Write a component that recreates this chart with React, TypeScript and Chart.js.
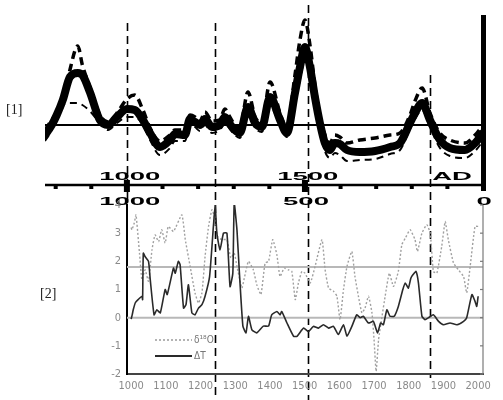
import { useEffect, useRef } from 'react';
import { Chart, registerables } from 'chart.js';

Chart.register(...registerables);

// ---------- Panel [1] (AD 770 – 2000) ----------
const TOP_YEARS = [770, 789, 803, 820, 840, 862, 875, 896, 924, 947, 972, 1000, 1022, 1045, 1065, 1093, 1121, 1135, 1163, 1177, 1191, 1205, 1219, 1239, 1261, 1275, 1289, 1303, 1317, 1340, 1360, 1379, 1402, 1430, 1449, 1472, 1486, 1500, 1514, 1528, 1542, 1556, 1570, 1584, 1598, 1618, 1654, 1697, 1739, 1767, 1795, 1809, 1829, 1851, 1879, 1907, 1949, 1978, 2000];
const TOP_MAIN = [-1.0, 0.0, 1.0, 2.5, 4.8, 5.2, 5.0, 3.3, 0.5, 0.0, 0.8, 1.6, 1.5, 0.5, -0.8, -2.2, -1.5, -0.9, -1.0, 0.6, 0.3, 0.0, 0.6, -0.2, 0.0, 0.8, 0.1, -0.5, -0.8, 1.8, 0.2, -0.2, 2.8, 0.5, -0.8, 3.2, 5.8, 7.8, 5.8, 2.8, 0.2, -1.8, -2.5, -1.8, -1.9, -2.5, -2.7, -2.6, -2.2, -1.8, 0.2, 1.2, 2.2, 0.5, -1.5, -2.3, -2.5, -1.8, -0.8];
const TOP_UPPER = [-0.5, 0.5, 1.2, 2.0, 5.5, 7.9, 6.0, 3.8, 1.0, 0.3, 1.2, 2.6, 3.0, 1.5, -0.3, -1.6, -1.0, -0.5, -0.5, 1.0, 0.8, 0.3, 1.3, 0.4, 0.5, 1.6, 0.8, 0.0, -0.3, 3.3, 0.8, 0.2, 4.3, 1.2, -0.3, 5.0, 8.5, 10.5, 8.0, 4.0, 0.8, -1.0, -1.8, -1.0, -1.2, -1.8, -1.5, -1.3, -1.0, -0.8, 1.0, 2.4, 3.7, 1.2, -0.8, -1.5, -1.8, -1.0, 0.0];
const TOP_LOWER = [-1.6, -0.5, 1.0, 2.0, 2.2, 2.2, 2.0, 1.4, 0.2, -0.5, 0.2, 0.8, 0.8, 0.0, -1.5, -3.0, -2.3, -1.6, -1.6, 0.0, -0.2, -0.6, 0.0, -0.8, -0.5, 0.2, -0.4, -1.0, -1.3, 1.0, -0.3, -0.7, 1.8, 0.0, -1.2, 2.2, 4.5, 6.5, 4.8, 2.0, -0.5, -2.6, -3.3, -2.8, -3.0, -3.6, -3.5, -3.4, -2.9, -2.5, -0.4, 0.6, 1.5, -0.2, -2.3, -3.1, -3.3, -2.6, -1.6];
const TOP_TICK_YEARS = [800, 900, 1000, 1100, 1200, 1300, 1400, 1500, 1600, 1700, 1800, 1900];
const TOP_MAJOR_TICKS = [1000, 1500];
const AD_LABEL_YEARS = [1008, 1508, 1913];
const AD_LABEL_TEXT = ['1000', '1500', 'AD'];
const BP_LABEL_YEARS = [1008, 1503, 2003];
const BP_LABEL_TEXT = ['1000', '500', '0'];
const DIVIDER_YEARS = [1000, 1247, 1508, 1851];
const DIVIDER_TOPS = [23, 23, 5, 75];
const DIVIDER_BOTTOMS = [200, 398, 400, 378];

// ---------- Panel [2] (AD 1000 – 2000) ----------
const DELTA_T: [number, number][] = [
  [1000, -0.05], [1003, 0.1], [1006, 0.28], [1012, 0.53], [1020, 0.64], [1031, 0.76], [1033, 0.64], [1035, 2.29], [1040, 2.17], [1050, 2.0],
  [1055, 1.35], [1066, 0.1], [1074, 0.28], [1084, 0.17], [1098, 1.0], [1104, 0.82], [1122, 1.76], [1127, 1.58], [1136, 2.0], [1141, 1.88],
  [1151, 0.34], [1158, 0.46], [1165, 1.17], [1175, 0.17], [1184, 0.1], [1194, 0.34], [1204, 0.46], [1213, 0.76], [1226, 1.46], [1237, 3.24],
  [1242, 4.0], [1247, 3.0], [1256, 2.4], [1266, 3.0], [1276, 3.0], [1285, 1.1], [1293, 1.58], [1297, 4.06], [1305, 3.1], [1312, 1.58],
  [1322, -0.3], [1331, -0.54], [1338, 0.05], [1348, -0.43], [1362, -0.54], [1381, -0.3], [1396, -0.3], [1405, 0.1], [1420, 0.22], [1429, 0.1],
  [1434, 0.22], [1449, -0.19], [1468, -0.66], [1478, -0.66], [1497, -0.37], [1511, -0.49], [1525, -0.31], [1540, -0.37], [1554, -0.25], [1569, -0.37],
  [1583, -0.31], [1597, -0.6], [1612, -0.25], [1622, -0.66], [1636, -0.31], [1650, 0.1], [1660, 0.0], [1669, 0.05], [1684, -0.19], [1698, -0.13],
  [1710, -0.54], [1719, -0.19], [1727, -0.25], [1737, 0.28], [1746, 0.05], [1758, 0.05], [1770, 0.4], [1783, 1.0], [1790, 1.23], [1799, 1.05],
  [1806, 1.4], [1812, 1.52], [1821, 1.64], [1828, 1.23], [1838, 0.05], [1847, -0.07], [1857, 0.0], [1871, 0.1], [1886, -0.13], [1900, -0.25],
  [1919, -0.19], [1939, -0.25], [1958, -0.13], [1967, 0.0], [1982, 0.82], [1991, 0.58], [1996, 0.4], [2000, 0.76],
];
const DELTA_O18: [number, number][] = [
  [1000, 3.2], [1002, 3.12], [1009, 3.36], [1014, 3.65], [1024, 2.29], [1031, 1.35], [1040, 1.7], [1050, 1.29], [1060, 2.41], [1069, 2.94],
  [1079, 2.7], [1088, 3.12], [1098, 2.65], [1107, 3.24], [1122, 3.06], [1146, 3.65], [1156, 2.77], [1170, 1.82], [1184, 0.88], [1194, 0.52],
  [1204, 0.88], [1213, 2.17], [1223, 3.24], [1233, 3.83], [1242, 3.48], [1249, 2.88], [1261, 2.77], [1276, 2.77], [1287, 2.12], [1297, 2.29],
  [1305, 1.82], [1319, 1.05], [1326, 1.4], [1338, 2.0], [1352, 1.7], [1362, 1.17], [1374, 0.82], [1386, 1.94], [1396, 2.0], [1408, 2.77],
  [1420, 2.23], [1429, 1.46], [1441, 1.76], [1453, 1.7], [1463, 1.64], [1473, 0.64], [1482, 1.23], [1492, 1.64], [1501, 1.58], [1516, 1.23],
  [1530, 1.82], [1550, 2.77], [1559, 1.7], [1569, 1.05], [1583, 0.94], [1593, 0.76], [1602, -0.07], [1612, 1.0], [1622, 1.82], [1636, 2.35],
  [1645, 1.46], [1655, 0.76], [1665, 0.17], [1674, 0.34], [1684, 0.76], [1694, 0.17], [1700, -0.78], [1706, -1.9], [1713, -0.78], [1723, 0.05],
  [1732, 0.76], [1744, 1.58], [1756, 1.11], [1770, 1.64], [1780, 2.59], [1790, 2.82], [1804, 3.12], [1818, 2.77], [1825, 2.35], [1838, 3.0],
  [1852, 3.3], [1862, 3.0], [1871, 1.64], [1881, 1.58], [1895, 2.53], [1905, 3.41], [1914, 2.77], [1929, 1.94], [1943, 1.7], [1958, 1.46],
  [1967, 0.88], [1977, 1.82], [1991, 3.24], [2000, 3.24],
];
const BOTTOM_X_TICKS = [1000, 1100, 1200, 1300, 1400, 1500, 1600, 1700, 1800, 1900, 2000];
const BOTTOM_Y_TICKS = [-2, -1, 0, 1, 2, 3, 4];
const REF_LEVELS = [0, 1.8];
const LEGEND_LABELS = ['δ¹⁸O', 'ΔT'];

const GREY_TEXT = '#8a8a8a';
const NARROW = '"Liberation Sans Narrow", "DejaVu Sans Condensed", sans-serif';

function stretchedText(ctx: CanvasRenderingContext2D, text: string, cx: number, baseline: number, sx: number) {
  ctx.save();
  ctx.translate(cx, baseline);
  ctx.scale(sx, 1);
  ctx.textAlign = 'center';
  ctx.textBaseline = 'alphabetic';
  ctx.fillText(text, 0, 0);
  ctx.restore();
}

const topDecor = {
  id: 'topDecor',
  afterDatasetsDraw(chart: any) {
    const { ctx, chartArea: a, scales } = chart;
    const x = scales.x;
    const axisY = a.bottom;
    ctx.save();
    ctx.fillStyle = '#000';
    ctx.strokeStyle = '#000';
    ctx.lineWidth = 2.5;
    ctx.beginPath();
    ctx.moveTo(a.left, axisY);
    ctx.lineTo(a.right, axisY);
    ctx.stroke();
    TOP_TICK_YEARS.forEach((yr) => {
      const px = x.getPixelForValue(yr);
      ctx.fillRect(px - 2, axisY, 4, 4);
    });
    TOP_MAJOR_TICKS.forEach((yr) => {
      const px = x.getPixelForValue(yr);
      ctx.fillRect(px - 3, axisY - 5, 6, 12);
    });
    ctx.fillRect(a.right - 2, 15, 5, axisY + 6 - 15);
    ctx.font = 'bold 11px "Liberation Sans", Arial, sans-serif';
    AD_LABEL_YEARS.forEach((yr, i) => {
      stretchedText(ctx, AD_LABEL_TEXT[i], x.getPixelForValue(yr), axisY - 5, 2.5);
    });
    BP_LABEL_YEARS.forEach((yr, i) => {
      stretchedText(ctx, BP_LABEL_TEXT[i], x.getPixelForValue(yr), axisY + 20, 2.5);
    });
    ctx.lineWidth = 1.6;
    ctx.setLineDash([8, 5]);
    DIVIDER_YEARS.forEach((yr, i) => {
      const px = Math.round(x.getPixelForValue(yr)) + 0.5;
      ctx.beginPath();
      ctx.moveTo(px, DIVIDER_TOPS[i]);
      ctx.lineTo(px, DIVIDER_BOTTOMS[i]);
      ctx.stroke();
    });
    ctx.restore();
  },
};

const bottomDecor = {
  id: 'bottomDecor',
  beforeDatasetsDraw(chart: any) {
    const { ctx, chartArea: a, scales } = chart;
    const y = scales.y;
    ctx.save();
    ctx.strokeStyle = '#b8b8b8';
    ctx.lineWidth = 2;
    REF_LEVELS.forEach((v) => {
      const py = y.getPixelForValue(v);
      ctx.beginPath();
      ctx.moveTo(a.left, py);
      ctx.lineTo(a.right, py);
      ctx.stroke();
    });
    ctx.strokeStyle = '#7a7a7a';
    ctx.lineWidth = 1.2;
    ctx.beginPath();
    ctx.moveTo(a.right, a.top);
    ctx.lineTo(a.right, a.bottom);
    ctx.stroke();
    BOTTOM_Y_TICKS.forEach((v) => {
      const py = y.getPixelForValue(v);
      ctx.beginPath();
      ctx.moveTo(a.right, py);
      ctx.lineTo(a.right - 3, py);
      ctx.stroke();
    });
    ctx.restore();
  },
  afterDatasetsDraw(chart: any) {
    const { ctx, chartArea: a } = chart;
    const lx0 = a.left + 28;
    const lx1 = a.left + 65;
    const y1 = a.bottom - 34;
    const y2 = a.bottom - 18;
    ctx.save();
    ctx.strokeStyle = '#9a9a9a';
    ctx.lineWidth = 1.5;
    ctx.setLineDash([2, 2]);
    ctx.beginPath();
    ctx.moveTo(lx0, y1);
    ctx.lineTo(lx1, y1);
    ctx.stroke();
    ctx.setLineDash([]);
    ctx.strokeStyle = '#2a2a2a';
    ctx.lineWidth = 1.8;
    ctx.beginPath();
    ctx.moveTo(lx0, y2);
    ctx.lineTo(lx1, y2);
    ctx.stroke();
    ctx.fillStyle = '#777';
    ctx.font = `10px ${NARROW}`;
    ctx.textAlign = 'left';
    ctx.textBaseline = 'middle';
    ctx.fillText(LEGEND_LABELS[0], lx1 + 2, y1);
    ctx.fillText(LEGEND_LABELS[1], lx1 + 2, y2);
    ctx.restore();
  },
};

export default function App() {
  const topRef = useRef<HTMLCanvasElement>(null);
  const botRef = useRef<HTMLCanvasElement>(null);

  useEffect(() => {
    const topChart = new Chart(topRef.current as HTMLCanvasElement, {
      type: 'line',
      data: {
        datasets: [
          {
            label: 'main',
            data: TOP_YEARS.map((yr, i) => ({ x: yr, y: TOP_MAIN[i] })),
            borderColor: '#000',
            borderWidth: 8,
            pointRadius: 0,
            cubicInterpolationMode: 'monotone',
            borderJoinStyle: 'round',
            borderCapStyle: 'round',
          },
          {
            label: 'upper',
            data: TOP_YEARS.map((yr, i) => ({ x: yr, y: TOP_UPPER[i] })),
            borderColor: '#000',
            borderWidth: 3.5,
            borderDash: [8, 5],
            pointRadius: 0,
            cubicInterpolationMode: 'monotone',
          },
          {
            label: 'lower',
            data: TOP_YEARS.map((yr, i) => ({ x: yr, y: TOP_LOWER[i] })),
            borderColor: '#000',
            borderWidth: 2,
            borderDash: [7, 5],
            pointRadius: 0,
            cubicInterpolationMode: 'monotone',
          },
          {
            label: 'baseline',
            data: [
              { x: TOP_YEARS[0], y: 0 },
              { x: TOP_YEARS[TOP_YEARS.length - 1], y: 0 },
            ],
            borderColor: '#000',
            borderWidth: 2,
            pointRadius: 0,
          },
        ],
      },
      options: {
        animation: false,
        responsive: false,
        layout: { padding: { left: 45, right: 20, top: 5, bottom: 215 } },
        plugins: { legend: { display: false }, tooltip: { enabled: false } },
        scales: {
          x: { type: 'linear', min: 770, max: 2000, display: false },
          y: { type: 'linear', min: -6, max: 12, display: false },
        },
      },
      plugins: [topDecor],
    } as any);

    const botChart = new Chart(botRef.current as HTMLCanvasElement, {
      type: 'line',
      data: {
        datasets: [
          {
            label: 'ΔT',
            data: DELTA_T.map(([x, y]) => ({ x, y })),
            borderColor: '#2a2a2a',
            borderWidth: 1.6,
            pointRadius: 0,
            tension: 0.15,
          },
          {
            label: 'δ18O',
            data: DELTA_O18.map(([x, y]) => ({ x, y })),
            borderColor: '#a0a0a0',
            borderWidth: 1.4,
            borderDash: [2, 2],
            pointRadius: 0,
            tension: 0.15,
          },
        ],
      },
      options: {
        animation: false,
        responsive: false,
        layout: { padding: { left: 105, right: 20, top: 205, bottom: 6 } },
        plugins: { legend: { display: false }, tooltip: { enabled: false } },
        scales: {
          x: {
            type: 'linear',
            min: 988,
            max: 2014,
            afterBuildTicks: (s: any) => {
              s.ticks = BOTTOM_X_TICKS.map((v) => ({ value: v }));
            },
            afterFit: (s: any) => {
              s.height = 20;
            },
            grid: { display: false, drawTicks: false },
            border: { display: true, color: '#444', width: 2 },
            ticks: {
              color: GREY_TEXT,
              padding: 6,
              maxRotation: 0,
              autoSkip: false,
              font: { size: 11, family: NARROW },
              callback: (v: any) => String(v),
            },
          },
          y: {
            type: 'linear',
            min: -2,
            max: 4,
            afterBuildTicks: (s: any) => {
              s.ticks = BOTTOM_Y_TICKS.map((v) => ({ value: v }));
            },
            afterFit: (s: any) => {
              s.width = 22;
            },
            grid: { display: false, drawTicks: false },
            border: { display: true, color: '#000', width: 2 },
            ticks: {
              color: GREY_TEXT,
              padding: 6,
              font: { size: 11, family: NARROW },
              callback: (v: any) => String(v),
            },
          },
        },
      },
      plugins: [bottomDecor],
    } as any);

    return () => {
      topChart.destroy();
      botChart.destroy();
    };
  }, []);

  return (
    <div
      style={{
        position: 'fixed',
        left: 0,
        top: 0,
        width: 503,
        height: 400,
        background: '#fff',
        overflow: 'hidden',
      }}
    >
      <canvas ref={topRef} width={503} height={400} style={{ position: 'absolute', left: 0, top: 0 }} />
      <canvas ref={botRef} width={503} height={400} style={{ position: 'absolute', left: 0, top: 0 }} />
      <div
        style={{
          position: 'absolute',
          left: 6,
          top: 101,
          font: '14px "Liberation Serif", "Times New Roman", serif',
          color: '#222',
          lineHeight: '18px',
        }}
      >
        [1]
      </div>
      <div
        style={{
          position: 'absolute',
          left: 40,
          top: 285,
          font: '14px "Liberation Serif", "Times New Roman", serif',
          color: '#222',
          lineHeight: '18px',
        }}
      >
        [2]
      </div>
    </div>
  );
}
